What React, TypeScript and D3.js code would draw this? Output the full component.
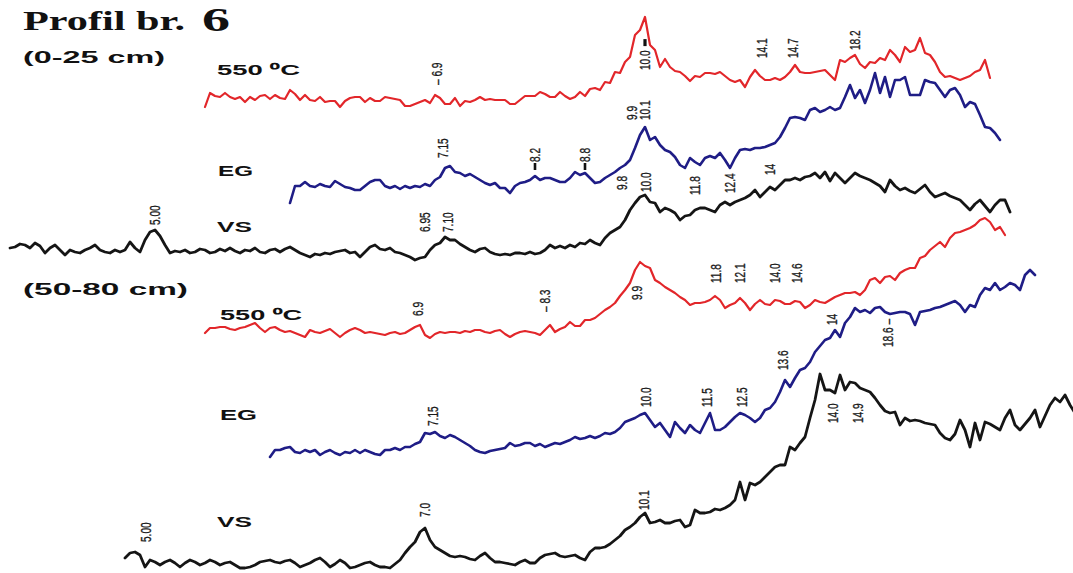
import React from "react";
import * as d3 from "d3";

const WIDTH = 1073;
const HEIGHT = 573;
const SCAN_STEP = 0.1; // °2θ between recorded points

// Six stacked diffractograms: two sampling depths, three treatments each
const traceNames = ["550 ⁰C", "EG", "VS", "550 ⁰C", "EG", "VS"];
const traceColors = ["#e2262a", "#1f1d86", "#151515", "#e2262a", "#1f1d86", "#151515"];
const traceWidths = [2.2, 2.6, 2.8, 2.2, 2.6, 2.8];
const traceStarts = [17.4, 15.7, 21.3, 17.4, 16.1, 19.0]; // °2θ of the first point
const traceOffsets = [466, 370, 313, 233, 116, 3]; // stacking offset, intensity units

// 0-25 cm, heated 550 °C
const heated0_25 = [
  0, 14, 11, 10, 14, 10, 8, 10, 5, 10, 7, 11, 12, 8, 12, 9, 8, 17, 13, 7,
  12, 7, 6, 10, 5, 6, 6, 0, 6, 9, 10, 10, 5, 9, 6, 6, 10, 9, 8, 7,
  1, 1, 3, 5, 7, 4, 12, 9, 3, 3, 9, 1, 6, 5, 7, 10, 7, 8, 7, 7,
  7, 3, 3, 7, 11, 11, 11, 15, 13, 10, 10, 15, 11, 8, 10, 15, 11, 18, 19, 17,
  25, 24, 35, 34, 45, 50, 72, 77, 90, 62, 57, 40, 48, 40, 36, 35, 31, 26, 31, 30,
  34, 34, 33, 35, 31, 27, 25, 27, 20, 30, 37, 31, 27, 27, 29, 27, 30, 35, 42, 35,
  34, 34, 35, 36, 37, 32, 27, 47, 45, 49, 52, 43, 39, 45, 44, 49, 47, 57, 52, 45,
  60, 55, 57, 69, 54, 52, 45, 35, 30, 31, 29, 27, 29, 31, 35, 37, 47, 29,
];

// 0-25 cm, ethylene glycol
const glycol0_25 = [
  0, 17, 17, 21, 17, 16, 19, 17, 16, 22, 19, 16, 15, 13, 13, 17, 21, 23, 23, 17,
  15, 17, 14, 17, 15, 17, 16, 19, 17, 23, 26, 35, 37, 31, 30, 27, 29, 26, 23, 20,
  18, 20, 15, 15, 10, 17, 20, 21, 23, 27, 23, 25, 25, 23, 21, 21, 25, 31, 28, 30,
  25, 20, 21, 25, 28, 31, 35, 38, 43, 55, 68, 76, 63, 66, 58, 53, 51, 46, 38, 35,
  45, 41, 38, 45, 47, 45, 50, 43, 35, 45, 53, 54, 53, 55, 55, 56, 58, 60, 66, 75,
  85, 86, 85, 83, 93, 95, 91, 93, 96, 93, 95, 106, 118, 105, 113, 100, 113, 130, 110, 126,
  106, 123, 123, 126, 108, 108, 108, 123, 121, 120, 113, 106, 113, 115, 108, 96, 101, 99, 88, 76,
  75, 70, 63,
];

// 0-25 cm, air-dried (VS)
const airDried0_25 = [
  12, 13, 16, 15, 12, 17, 14, 7, 12, 15, 10, 5, 10, 8, 7, 10, 12, 15, 10, 8,
  7, 10, 8, 10, 18, 12, 8, 20, 28, 30, 24, 15, 7, 9, 8, 10, 7, 8, 11, 10,
  7, 8, 11, 9, 12, 9, 7, 10, 9, 12, 8, 7, 10, 11, 8, 11, 13, 10, 7, 5,
  3, 6, 5, 7, 6, 8, 9, 10, 7, 8, 3, 8, 13, 15, 11, 10, 12, 8, 7, 5,
  3, 0, 2, 3, 10, 15, 17, 23, 20, 20, 16, 13, 10, 8, 11, 12, 8, 6, 5, 6,
  5, 7, 7, 6, 8, 6, 7, 10, 15, 12, 14, 12, 15, 13, 17, 16, 20, 17, 15, 22,
  27, 30, 33, 40, 50, 57, 63, 65, 58, 57, 48, 52, 50, 47, 40, 44, 45, 50, 52, 52,
  50, 48, 55, 58, 55, 58, 60, 62, 65, 70, 63, 68, 73, 70, 75, 80, 80, 82, 80, 83,
  84, 87, 82, 88, 79, 87, 82, 77, 82, 87, 84, 82, 80, 77, 74, 68, 80, 74, 70, 72,
  69, 67, 71, 75, 68, 63, 65, 67, 64, 62, 60, 55, 50, 56, 60, 54, 48, 55, 60, 60,
  48,
];

// 50-80 cm, heated 550 °C
const heated50_80 = [
  7, 12, 12, 13, 13, 11, 10, 12, 13, 15, 17, 12, 8, 12, 13, 10, 8, 9, 7, 5,
  3, 10, 8, 7, 9, 11, 7, 3, 7, 10, 12, 10, 7, 8, 7, 6, 5, 7, 8, 6,
  7, 10, 13, 15, 5, 2, 6, 8, 7, 8, 8, 7, 9, 8, 10, 10, 8, 7, 9, 10,
  6, 3, 6, 8, 9, 8, 7, 5, 10, 15, 8, 11, 13, 18, 14, 14, 20, 20, 22, 26,
  30, 33, 37, 44, 50, 57, 70, 78, 74, 72, 60, 57, 53, 50, 47, 43, 40, 35, 37, 37,
  38, 40, 44, 40, 32, 35, 37, 42, 37, 30, 36, 40, 36, 35, 40, 39, 36, 36, 39, 38,
  32, 35, 40, 38, 37, 40, 43, 45, 47, 47, 48, 45, 50, 60, 62, 57, 63, 64, 60, 67,
  70, 72, 72, 82, 84, 90, 94, 98, 93, 102, 107, 108, 110, 112, 115, 120, 122, 118, 110, 113,
  105,
];

// 50-80 cm, ethylene glycol
const glycol50_80 = [
  0, 7, 7, 9, 10, 5, 4, 7, 5, 7, 2, 5, 7, 4, 2, 5, 4, 7, 4, 7,
  5, 3, 2, 7, 7, 9, 7, 10, 10, 13, 15, 24, 23, 25, 21, 19, 22, 20, 17, 14,
  11, 7, 5, 4, 6, 7, 8, 9, 14, 11, 12, 14, 14, 11, 13, 10, 12, 14, 13, 15,
  17, 20, 18, 19, 21, 19, 21, 24, 23, 25, 29, 35, 37, 39, 42, 44, 37, 30, 34, 27,
  20, 35, 29, 24, 32, 27, 24, 34, 44, 27, 27, 30, 35, 40, 44, 42, 39, 35, 39, 47,
  49, 55, 65, 77, 70, 79, 87, 89, 95, 105, 111, 117, 119, 127, 120, 134, 140, 149, 145, 147,
  144, 149, 150, 145, 143, 144, 145, 145, 143, 132, 145, 146, 147, 149, 150, 152, 154, 156, 152, 145,
  152, 150, 162, 169, 167, 174, 167, 170, 174, 172, 167, 182, 187, 182,
];

// 50-80 cm, air-dried (VS)
const airDried50_80 = [
  12, 17, 18, 15, 3, 10, 8, 5, 8, 10, 7, 3, 7, 10, 8, 5, 7, 10, 8, 5,
  7, 8, 5, 2, 2, 3, 5, 8, 9, 10, 8, 7, 9, 10, 7, 3, 5, 7, 10, 12,
  8, 3, 6, 10, 7, 2, 3, 5, 7, 8, 5, 3, 3, 2, 6, 10, 17, 23, 28, 38,
  42, 30, 23, 20, 17, 14, 13, 14, 13, 11, 10, 14, 17, 12, 8, 8, 7, 6, 5, 8,
  10, 7, 7, 12, 15, 16, 17, 14, 13, 14, 15, 12, 10, 18, 22, 22, 23, 26, 30, 34,
  40, 43, 47, 53, 57, 47, 48, 50, 47, 47, 49, 50, 43, 45, 60, 57, 57, 58, 61, 60,
  62, 65, 70, 88, 70, 87, 85, 88, 93, 98, 103, 105, 105, 123, 120, 127, 133, 152, 170, 196,
  180, 180, 177, 195, 180, 188, 187, 182, 180, 178, 172, 165, 159, 157, 158, 145, 152, 149, 150, 149,
  147, 146, 145, 137, 132, 130, 136, 150, 140, 123, 147, 130, 148, 146, 143, 140, 152, 160, 145, 140,
  146, 152, 160, 143, 154, 165, 172, 168, 175, 165, 157,
];

const traceValues = [heated0_25, glycol0_25, airDried0_25, heated50_80, glycol50_80, airDried50_80];

// Peak annotations (d-spacing in Å); pos in °2θ, level in stacked intensity
const peakTrace = [0, 0, 0, 0, 0, 1, 1, 1, 1, 1, 2, 2, 2, 2, 2, 2, 2, 2, 3, 3, 3, 3, 3, 3, 3, 4, 4, 4, 4, 4, 4, 4, 5, 5, 5, 5, 5];
const peakText = [
  "– 6.9", "10.0", "14.1", "14.7", "18.2",
  "7.15", "8.2", "8.8", "9.9", "10.1",
  "5.00", "6.95", "7.10", "9.8", "10.0", "11.8", "12.4", "14",
  "6.9", "– 8.3", "9.9", "11.8", "12.1", "14.0", "14.6",
  "7.15", "10.0", "11.5", "12.5", "13.6", "14", "18.6 –",
  "5.00", "7.0", "10.1", "14.0", "14.9",
];
const peakPos = [
  12.76, 8.6, 6.26, 5.64, 4.4,
  12.64, 10.8, 9.8, 8.86, 8.6,
  18.4, 13.0, 12.54, 9.06, 8.58, 7.6, 6.9, 6.1,
  13.14, 10.6, 8.76, 7.18, 6.7, 6.0, 5.56,
  12.84, 8.58, 7.36, 6.66, 5.84, 4.86, 3.74,
  18.58, 13.0, 8.62, 4.84, 4.34,
];
const peakLevel = [
  488, 503, 515, 515, 523,
  415, 411, 411, 453, 453,
  348, 341, 341, 383, 381, 378, 380, 398,
  257, 261, 273, 290, 290, 290, 290,
  147, 166, 166, 166, 203, 248, 226,
  31, 56, 63, 150, 150,
];
// heavy marker bar drawn before ("start") or after ("end") the label
const peakBar = [
  "", "end", "", "", "",
  "", "start", "start", "", "",
  "", "", "", "", "", "", "", "",
  "", "", "", "", "", "", "",
  "", "", "", "", "", "", "",
  "", "", "", "", "",
];

const x = d3.scaleLinear().domain([21.5, 0]).range([0, 1075]);
const y = d3.scaleLinear().domain([0, HEIGHT]).range([HEIGHT, 0]);

const line = d3
  .line<[number, number]>()
  .x((d) => x(d[0]))
  .y((d) => y(d[1]));

const SANS = "'Liberation Sans', Arial, sans-serif";

function Title({ tx, ty, w, size, children, family = SANS }: any) {
  return (
    <text
      x={tx}
      y={ty}
      fontFamily={family}
      fontWeight="bold"
      fontSize={size}
      fill="#111"
      textLength={w}
      lengthAdjust="spacingAndGlyphs"
    >
      {children}
    </text>
  );
}

export default function App() {
  const paths = traceValues.map((vals, t) =>
    line(vals.map((v, i) => [traceStarts[t] - i * SCAN_STEP, traceOffsets[t] + v] as [number, number]))
  );

  return (
    <svg
      width={WIDTH}
      height={HEIGHT}
      style={{ position: "absolute", left: 0, top: 0, background: "#fff" }}
    >
      <rect width={WIDTH} height={HEIGHT} fill="#fff" />

      {/* headings */}
      <Title tx={23} ty={30} w={162} size={27} family="'Liberation Serif', 'Times New Roman', serif">
        Profil br.
      </Title>
      <Title tx={202} ty={31} w={28} size={34} family="'Liberation Serif', 'Times New Roman', serif">
        6
      </Title>
      <Title tx={23} ty={63} w={142} size={17}>(0-25 cm)</Title>
      <Title tx={23} ty={295} w={165} size={17}>(50-80 cm)</Title>

      {/* treatment names */}
      <Title tx={217} ty={75} w={83} size={14}>{traceNames[0]}</Title>
      <Title tx={218} ty={176} w={35} size={15}>{traceNames[1]}</Title>
      <Title tx={217} ty={232} w={35} size={14}>{traceNames[2]}</Title>
      <Title tx={220} ty={320} w={82} size={14}>{traceNames[3]}</Title>
      <Title tx={220} ty={420} w={37} size={14}>{traceNames[4]}</Title>
      <Title tx={217} ty={527} w={35} size={15}>{traceNames[5]}</Title>

      {/* diffractograms */}
      {paths.map((p, t) => (
        <path
          key={t}
          d={p ?? ""}
          fill="none"
          stroke={traceColors[t]}
          strokeWidth={traceWidths[t]}
          strokeLinejoin="round"
          strokeLinecap="round"
        />
      ))}

      {/* peak labels */}
      {peakText.map((txt, i) => {
        const px = x(peakPos[i]);
        const py = y(peakLevel[i]);
        const len = txt.length * 5.4 - (txt.includes(".") ? 2.7 : 0);
        const bar = peakBar[i];
        return (
          <g key={i}>
            <text
              transform={`translate(${px},${py}) rotate(-90) scale(0.88,1.3)`}
              dy="0.36em"
              fontFamily={SANS}
              fontSize={11.5}
              fill="#1a1a1a"
              stroke="#1a1a1a"
              strokeWidth={0.25}
            >
              {txt}
            </text>
            {bar === "start" && (
              <rect x={px - 1.3} y={py + 1} width={2.6} height={7} fill="#111" />
            )}
            {bar === "end" && (
              <rect x={px - 1.6} y={py - len - 12} width={3.2} height={7} fill="#111" />
            )}
          </g>
        );
      })}
    </svg>
  );
}
